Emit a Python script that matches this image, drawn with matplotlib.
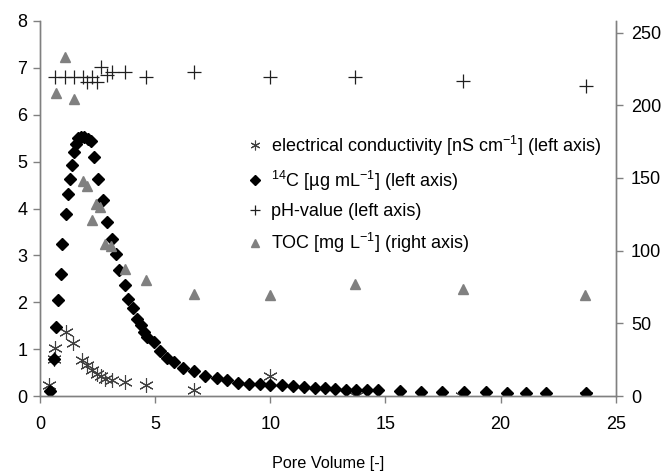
import matplotlib.pyplot as plt

plt.rcParams['font.family'] = ['Liberation Sans', 'DejaVu Sans']
plt.rcParams['mathtext.default'] = 'regular'

# 14C concentration (left axis)
c14_x = [0.43, 0.61, 0.68, 0.80, 0.91, 0.97, 1.13, 1.23, 1.30, 1.41, 1.48, 1.55,
         1.64, 1.77, 1.93, 2.10, 2.20, 2.36, 2.54, 2.75, 2.93, 3.12, 3.30, 3.43,
         3.68, 3.84, 4.06, 4.23, 4.38, 4.54, 4.64, 4.96, 5.22, 5.51, 5.80, 6.23,
         6.70, 7.17, 7.68, 8.14, 8.62, 9.09, 9.57, 10.0, 10.5, 10.97, 11.45,
         11.93, 12.36, 12.83, 13.29, 13.74, 14.20, 14.67, 15.65, 16.55, 17.46,
         18.43, 19.35, 20.26, 21.09, 21.96, 23.72]
c14_y = [0.10, 0.80, 1.47, 2.05, 2.61, 3.24, 3.89, 4.30, 4.62, 4.93, 5.21, 5.38,
         5.50, 5.53, 5.53, 5.48, 5.45, 5.10, 4.62, 4.18, 3.71, 3.36, 3.04, 2.70,
         2.37, 2.08, 1.87, 1.65, 1.51, 1.37, 1.26, 1.16, 0.97, 0.82, 0.72, 0.59,
         0.53, 0.43, 0.38, 0.34, 0.28, 0.26, 0.26, 0.24, 0.23, 0.21, 0.19,
         0.18, 0.18, 0.16, 0.14, 0.14, 0.14, 0.13, 0.11, 0.09, 0.09,
         0.09, 0.09, 0.07, 0.07, 0.07, 0.07]

# electrical conductivity (left axis)
ec_x = [0.41, 0.60, 0.65, 1.13, 1.45, 1.84, 2.03, 2.25, 2.46, 2.64, 2.83, 3.12,
        3.70, 4.61, 6.70, 10.0, 13.74, 18.33, 23.7]
ec_y = [0.23, 0.80, 1.02, 1.37, 1.14, 0.77, 0.66, 0.55, 0.48, 0.43, 0.37, 0.34,
        0.31, 0.23, 0.13, 0.42, 0.0, 0.0, 0.0]

# pH (left axis)
ph_x = [0.65, 1.09, 1.49, 1.88, 2.05, 2.25, 2.46, 2.64, 2.90, 3.12, 3.70, 4.62,
        6.68, 9.98, 13.7, 18.35, 23.7]
ph_y = [6.81, 6.81, 6.81, 6.81, 6.70, 6.81, 6.69, 7.02, 6.84, 6.90, 6.90, 6.81,
        6.91, 6.81, 6.81, 6.72, 6.61]

# TOC (right axis)
toc_x = [0.70, 1.09, 1.48, 1.86, 2.03, 2.25, 2.43, 2.61, 2.83, 3.09, 3.70, 4.61,
         6.67, 10.0, 13.7, 18.36, 23.67]
toc_y = [208.5, 233, 204, 148, 144.5, 121.4, 132.4, 130, 104.5, 103, 87.7, 80,
         70.4, 69.4, 76.8, 74, 69.4]

gray = '#808080'

fig = plt.figure(figsize=(6.65, 4.75), dpi=100)
ax = fig.add_axes([0.060, 0.166, 0.866, 0.790])
ax2 = ax.twinx()

h_ec, = ax.plot(ec_x, ec_y, ls='none', marker=(6, 2, 0), ms=10.5, mew=0.8,
                color='#404040', label='electrical conductivity [nS cm$^{-1}$] (left axis)')
h_c14, = ax.plot(c14_x, c14_y, ls='none', marker='D', ms=6.5, color='black',
                 label='$^{14}$C [µg mL$^{-1}$] (left axis)')
h_ph, = ax.plot(ph_x, ph_y, ls='none', marker='+', ms=10, mew=0.9,
                color='#202020', label='pH-value (left axis)')
h_toc, = ax2.plot(toc_x, toc_y, ls='none', marker='^', ms=7, color=gray,
                  label='TOC [mg L$^{-1}$] (right axis)')

ax.set_xlim(0, 25)
ax.set_ylim(0, 8)
ax2.set_ylim(0, 258)
ax.set_xticks(range(0, 26, 5))
ax.set_yticks(range(0, 9))
ax2.set_yticks(range(0, 251, 50))

for a in (ax, ax2):
    a.spines['top'].set_visible(False)
    for s in ('left', 'right', 'bottom'):
        a.spines[s].set_color(gray)
        a.spines[s].set_linewidth(1.0)
    a.tick_params(labelsize=13, color=gray, length=5, width=1.0, direction='out')
ax.tick_params(axis='x', pad=9)
ax.tick_params(axis='y', pad=4)
ax2.tick_params(axis='y', pad=6)

ax.set_xlabel('Pore Volume [-]', fontsize=11.7, labelpad=17)

leg = ax.legend(handles=[h_ec, h_c14, h_ph, h_toc], loc='upper left',
                bbox_to_anchor=(0.354, 0.70), frameon=False, fontsize=13,
                labelspacing=0.6, handletextpad=0.33, handlelength=1.2,
                borderaxespad=0, borderpad=0)
for h, ms in zip(leg.legend_handles, [7, 5.5, 7.5, 5.5]):
    h.set_markersize(ms)

fig.savefig('out.png', dpi=100)
